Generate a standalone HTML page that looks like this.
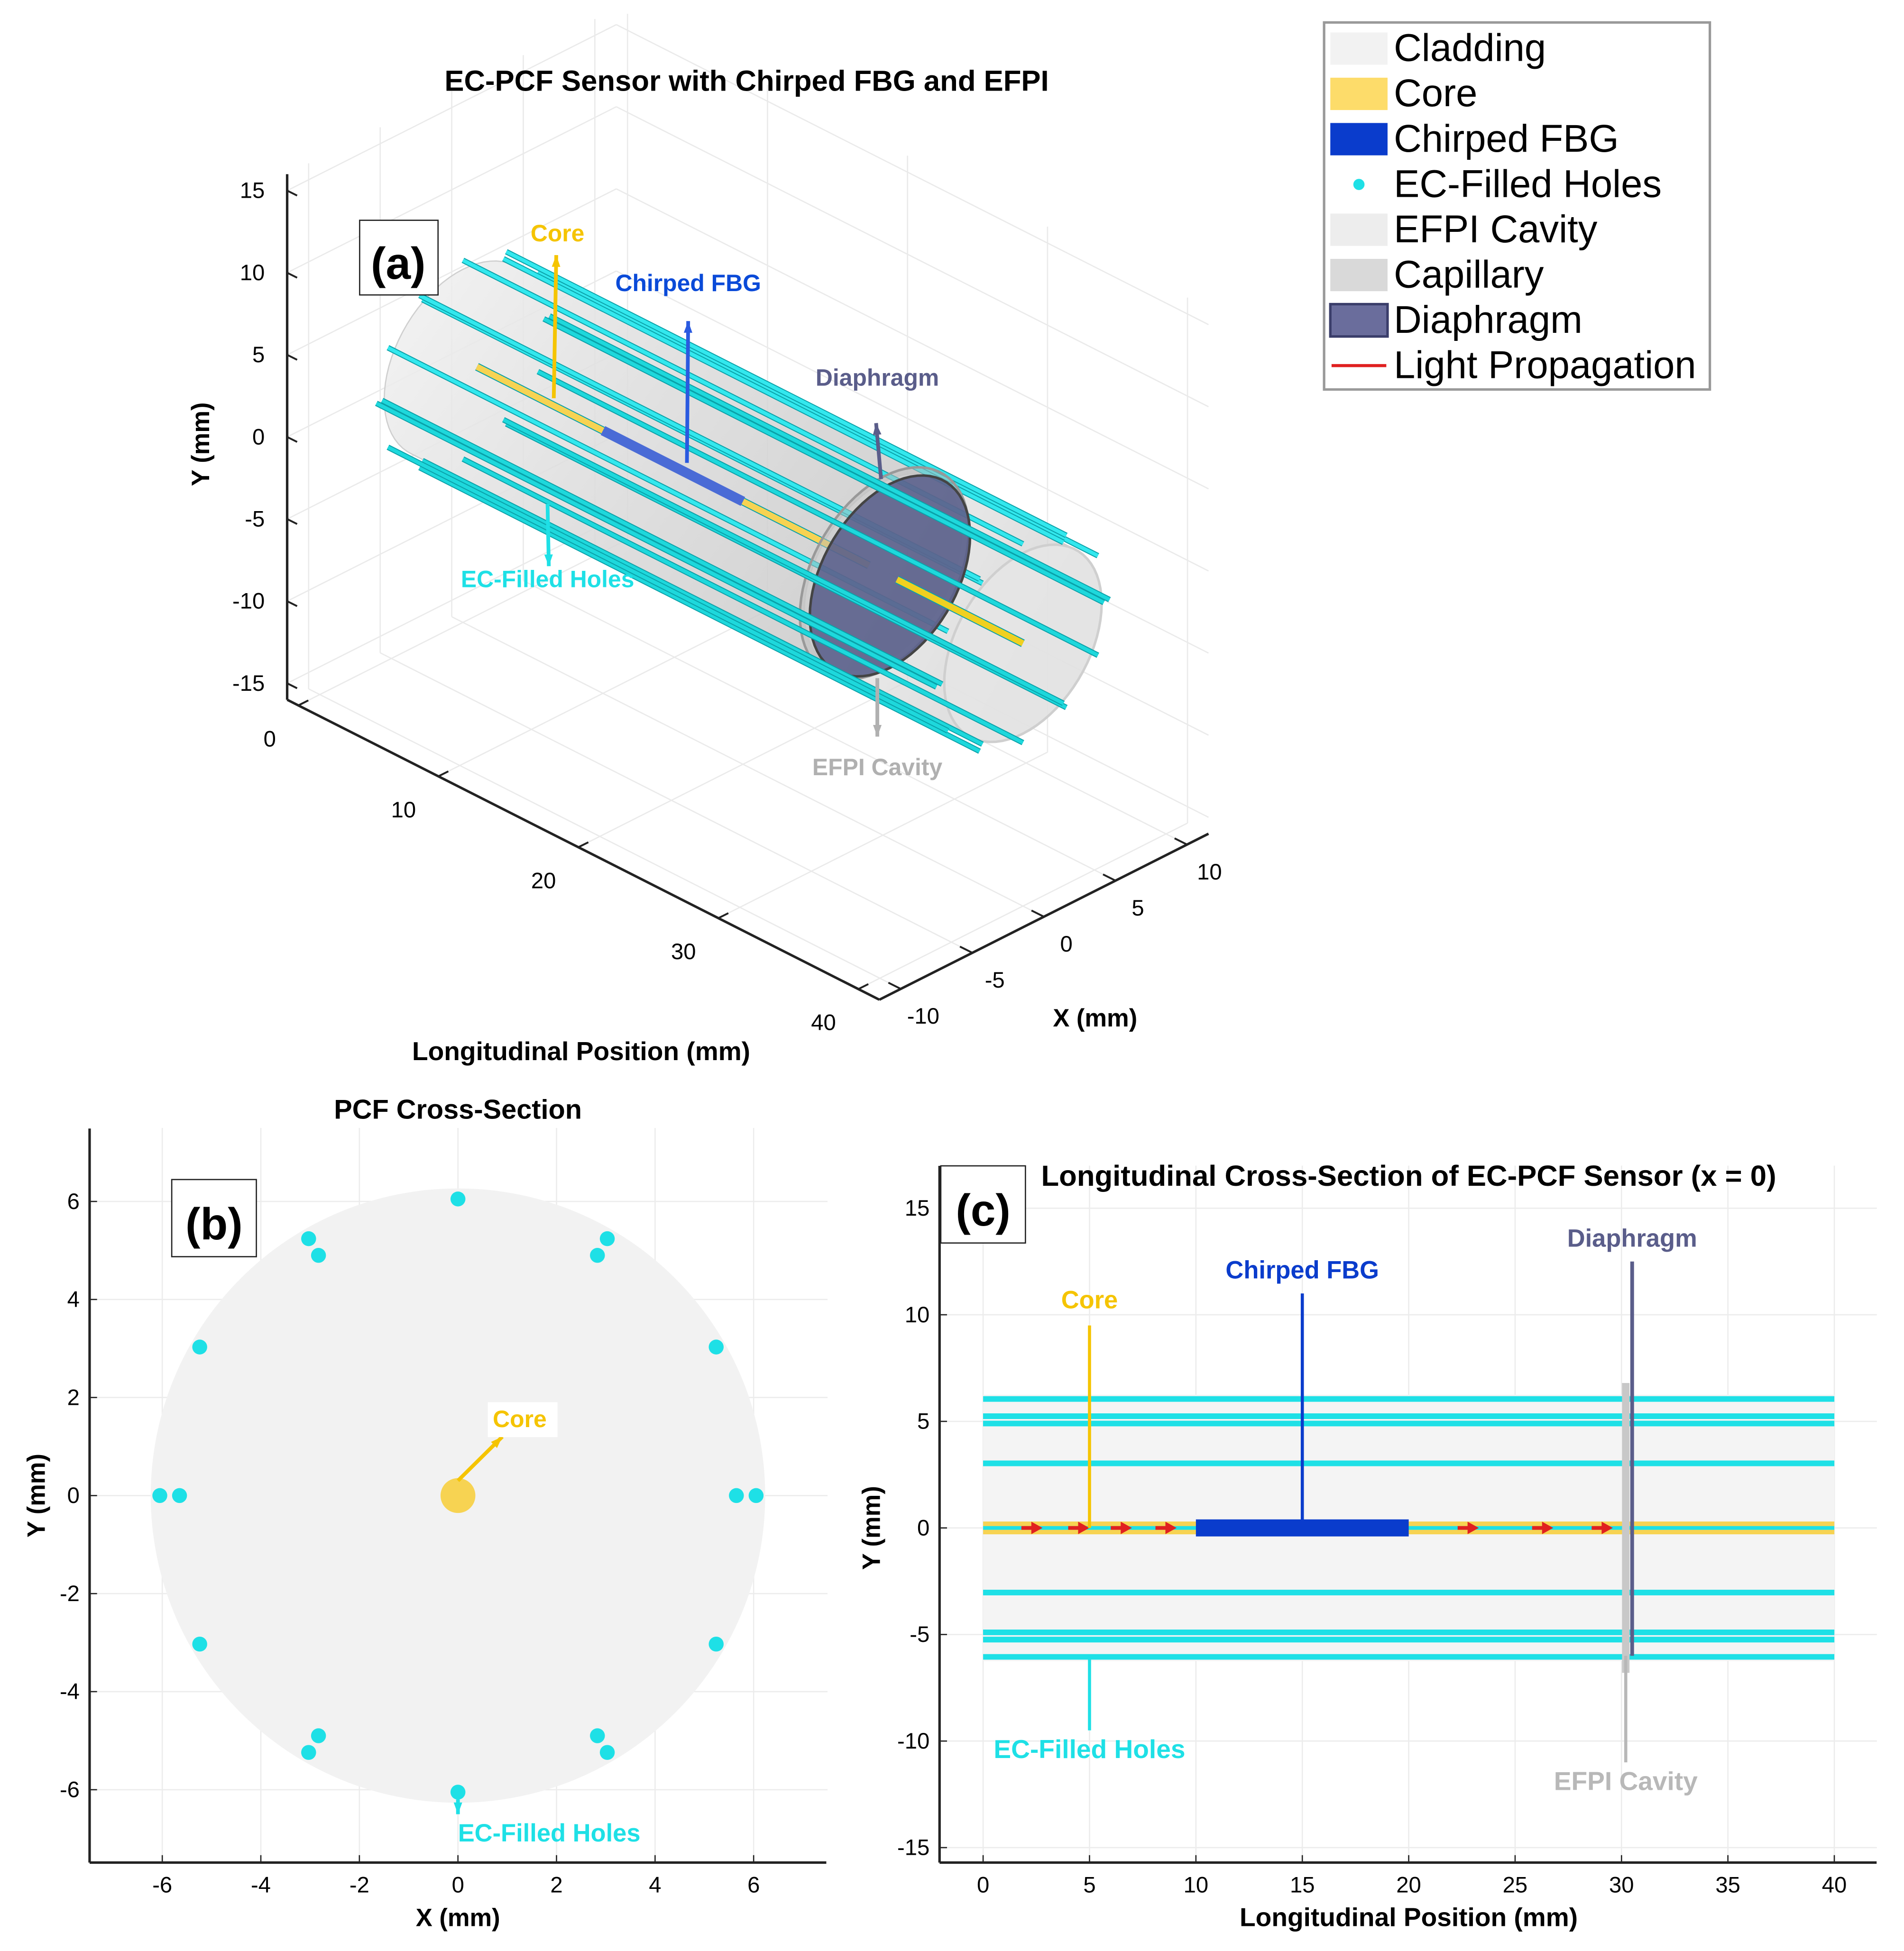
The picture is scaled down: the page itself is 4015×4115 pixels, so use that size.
<!DOCTYPE html>
<html><head><meta charset="utf-8"><style>html,body{margin:0;padding:0;background:#fff}svg{display:block}text{font-family:"Liberation Sans",sans-serif}</style></head>
<body>
<svg id="s" width="4015" height="4115" viewBox="0 0 1530 1568" xmlns="http://www.w3.org/2000/svg">
<rect width="1530" height="1568" fill="#fff"/>
<g id="pa"></g>
<g id="pb"></g>
<g id="pc"></g>
<g id="lg"></g>
</svg>
<script>
const holeX=[6.05,5.24,3.03,0,-3.03,-5.24,-6.05,-5.24,-3.03,0,3.03,5.24,5.65,2.83,-2.83,-5.65,-2.83,2.83];
const holeY=[0,3.03,5.24,6.05,5.24,3.03,0,-3.03,-5.24,-6.05,-5.24,-3.03,0,4.9,4.9,0,-4.9,-4.9];
const cladR=6.25, cladR3d=5.5, coreR=0.3, fbgStart=10, fbgEnd=20, fiberLen=40, capPos=30.2, diaPos=30.5;
const lightArrows=[2.5,4.7,6.7,8.8,23,26.5,29.3];
const ticksB=[-6,-4,-2,0,2,4,6];
const ticksCx=[0,5,10,15,20,25,30,35,40];
const ticksCy=[-15,-10,-5,0,5,10,15];
const ticksAz=[0,10,20,30,40];
const ticksAx=[-10,-5,0,5,10];
const ticksAy=[-15,-10,-5,0,5,10,15];
const NS="http://www.w3.org/2000/svg";
const TF=23.5, AF=21, NF=19, CF=20;
function el(p,t,a,txt){const e=document.createElementNS(NS,t);for(const k in a)e.setAttribute(k,a[k]);if(txt!==undefined)e.textContent=txt;p.appendChild(e);return e;}
const S=document.getElementById('s');
const A=document.getElementById('pa'),B=document.getElementById('pb'),C=document.getElementById('pc'),L=document.getElementById('lg');
function arrow(p,x1,y1,x2,y2,col,w){const l=el(p,'line',{x1,y1,x2,y2,stroke:col,'stroke-width':w||2.5});
 const a=Math.atan2(y2-y1,x2-x1),h=10;el(p,'polygon',{points:`${x2},${y2} ${x2-h*Math.cos(a-0.35)},${y2-h*Math.sin(a-0.35)} ${x2-h*Math.cos(a+0.35)},${y2-h*Math.sin(a+0.35)}`,fill:col});return l;}

// ===== Panel B =====
const bx=v=>368+v*39.6, by=v=>1202-v*39.4;
for(const t of ticksB){el(B,'line',{x1:bx(t),y1:by(7.5),x2:bx(t),y2:by(-7.5),stroke:'#ececec'});el(B,'line',{x1:bx(-7.5),y1:by(t),x2:bx(7.5),y2:by(t),stroke:'#ececec'});}
let c=el(B,'circle',{cx:bx(0),cy:by(0),r:cladR*39.5,fill:'#f2f2f2'});
for(let i=0;i<holeX.length;i++){const h=el(B,'circle',{cx:bx(holeX[i]),cy:by(holeY[i]),r:6,fill:'#1ee0e6'});}
c=el(B,'circle',{cx:bx(0),cy:by(0),r:14,fill:'#f7d352'});
arrow(B,bx(0),by(0)-12,bx(0.9),by(1.2),'#f5c400',3);
el(B,'rect',{x:392,y:1127,width:56,height:28,fill:'#fff'});
el(B,'text',{x:396,y:1147,'font-size':NF,'font-weight':'bold',fill:'#f5c400'},'Core');
arrow(B,bx(0),by(-6.2),bx(0),by(-6.5),'#1ee0e6',3);
el(B,'text',{x:368,y:1480,'font-size':NF+1,'font-weight':'bold',fill:'#1ee0e6'},'EC-Filled Holes');
el(B,'line',{x1:72,y1:907,x2:72,y2:1497,stroke:'#222','stroke-width':2});
el(B,'line',{x1:72,y1:1497,x2:664,y2:1497,stroke:'#222','stroke-width':2});
for(const t of ticksB){el(B,'line',{x1:bx(t),y1:1497,x2:bx(t),y2:1491,stroke:'#222'});el(B,'text',{x:bx(t),y:1521,'font-size':18,'text-anchor':'middle'},t);
 el(B,'line',{x1:72,y1:by(t),x2:78,y2:by(t),stroke:'#222'});el(B,'text',{x:64,y:by(t)+6,'font-size':18,'text-anchor':'end'},t);}
el(B,'text',{x:368,y:1548,'font-size':AF-1,'font-weight':'bold','text-anchor':'middle'},'X (mm)');
el(B,'text',{x:0,y:0,'font-size':AF-1,'font-weight':'bold','text-anchor':'middle',transform:'translate(36,1202) rotate(-90)'},'Y (mm)');
el(B,'text',{x:368,y:899,'font-size':22,'font-weight':'bold','text-anchor':'middle'},'PCF Cross-Section');
el(B,'rect',{x:138,y:948,width:68,height:62,fill:'#fff',stroke:'#222'});
el(B,'text',{x:172,y:996,'font-size':36,'font-weight':'bold','text-anchor':'middle'},'(b)');

// ===== Panel C =====
const cx=v=>790+v*17.1, cy=v=>1228-v*17.13;
for(const t of ticksCx)el(C,'line',{x1:cx(t),y1:cy(17),x2:cx(t),y2:cy(-15.7),stroke:'#ececec'});
for(const t of ticksCy)el(C,'line',{x1:cx(-2),y1:cy(t),x2:cx(42),y2:cy(t),stroke:'#ececec'});
el(C,'rect',{x:cx(0),y:cy(cladR),width:cx(fiberLen)-cx(0),height:cy(-cladR)-cy(cladR),fill:'#f4f4f4'});
for(let i=0;i<holeY.length;i++){if(Math.abs(holeY[i])<0.01)continue;
 const l=el(C,'line',{x1:cx(0),y1:cy(holeY[i]),x2:cx(fiberLen),y2:cy(holeY[i]),stroke:'#1ee0e6','stroke-width':4.5});}
el(C,'rect',{x:cx(0),y:cy(coreR),width:cx(fiberLen)-cx(0),height:cy(-coreR)-cy(coreR),fill:'#f7d352'});
el(C,'line',{x1:cx(0),y1:cy(0),x2:cx(fiberLen),y2:cy(0),stroke:'#1ee0e6','stroke-width':3});
const fb=el(C,'rect',{x:cx(fbgStart),y:cy(0.4),width:cx(fbgEnd)-cx(fbgStart),height:cy(-0.4)-cy(0.4),fill:'#0a3ccc'});
for(const a of lightArrows){const x=cx(a);el(C,'line',{x1:x-12,y1:cy(0),x2:x,y2:cy(0),stroke:'#e02020','stroke-width':3});el(C,'polygon',{points:`${x+5},${cy(0)} ${x-4},${cy(0)-5} ${x-4},${cy(0)+5}`,fill:'#e02020'});}
el(C,'rect',{x:cx(capPos)-3,y:cy(6.8),width:6,height:cy(-6.8)-cy(6.8),fill:'#c8c8c8'});
el(C,'line',{x1:cx(diaPos),y1:cy(-6),x2:cx(diaPos),y2:cy(12.5),stroke:'#5a5d8a','stroke-width':3});
el(C,'line',{x1:cx(5),y1:cy(0),x2:cx(5),y2:cy(9.5),stroke:'#f5c400','stroke-width':2.5});
el(C,'text',{x:cx(5),y:cy(10.3),'font-size':CF,'font-weight':'bold',fill:'#f5c400','text-anchor':'middle'},'Core');
el(C,'line',{x1:cx(15),y1:cy(0),x2:cx(15),y2:cy(11),stroke:'#0a3ccc','stroke-width':2.5});
el(C,'text',{x:cx(15),y:cy(11.7),'font-size':CF,'font-weight':'bold',fill:'#0a3ccc','text-anchor':'middle'},'Chirped FBG');
el(C,'text',{x:cx(30.5),y:cy(13.2),'font-size':CF,'font-weight':'bold',fill:'#5a5d8a','text-anchor':'middle'},'Diaphragm');
el(C,'line',{x1:cx(5),y1:cy(-6),x2:cx(5),y2:cy(-9.5),stroke:'#1ee0e6','stroke-width':2.5});
el(C,'text',{x:cx(5),y:cy(-10.8),'font-size':CF+1,'font-weight':'bold',fill:'#1ee0e6','text-anchor':'middle'},'EC-Filled Holes');
el(C,'line',{x1:cx(30.2),y1:cy(-6),x2:cx(30.2),y2:cy(-11),stroke:'#b8b8b8','stroke-width':2.5});
el(C,'text',{x:cx(30.2),y:cy(-12.3),'font-size':CF+1,'font-weight':'bold',fill:'#b8b8b8','text-anchor':'middle'},'EFPI Cavity');
el(C,'line',{x1:755,y1:937,x2:755,y2:1497,stroke:'#222','stroke-width':2});
el(C,'line',{x1:755,y1:1497,x2:1508,y2:1497,stroke:'#222','stroke-width':2});
for(const t of ticksCx){el(C,'line',{x1:cx(t),y1:1497,x2:cx(t),y2:1491,stroke:'#222'});el(C,'text',{x:cx(t),y:1521,'font-size':18,'text-anchor':'middle'},t);}
for(const t of ticksCy){el(C,'line',{x1:755,y1:cy(t),x2:761,y2:cy(t),stroke:'#222'});el(C,'text',{x:747,y:cy(t)+6,'font-size':18,'text-anchor':'end'},t);}
el(C,'text',{x:1132,y:1548,'font-size':AF,'font-weight':'bold','text-anchor':'middle'},'Longitudinal Position (mm)');
el(C,'text',{x:0,y:0,'font-size':AF-1,'font-weight':'bold','text-anchor':'middle',transform:'translate(707,1228) rotate(-90)'},'Y (mm)');
el(C,'text',{x:1132,y:953,'font-size':TF,'font-weight':'bold','text-anchor':'middle'},'Longitudinal Cross-Section of EC-PCF Sensor (x = 0)');
el(C,'rect',{x:756,y:937,width:68,height:62,fill:'#fff',stroke:'#222'});
el(C,'text',{x:790,y:985,'font-size':36,'font-weight':'bold','text-anchor':'middle'},'(c)');

// ===== Panel A =====
const P=(x,y,z)=>[597+11.25*(z-20)+11.5*x, 403+5.7*(z-20)-5.8*x-13.2*y];
const X0=-11.5,X1=11.5,Y0=-16,Y1=16,Z0=-0.8,Z1=41.5;
const ln=(a,b,st,w)=>el(A,'line',{x1:a[0],y1:a[1],x2:b[0],y2:b[1],stroke:st,'stroke-width':w||1});
for(const t of ticksAy){ln(P(X1,t,Z0),P(X1,t,Z1),'#eaeaea');ln(P(X0,t,Z0),P(X1,t,Z0),'#eaeaea');}
for(const t of ticksAz){ln(P(X1,Y0,t),P(X1,Y1,t),'#eaeaea');ln(P(X0,Y0,t),P(X1,Y0,t),'#eaeaea');}
for(const t of ticksAx){ln(P(t,Y0,Z0),P(t,Y1,Z0),'#eaeaea');ln(P(t,Y0,Z0),P(t,Y0,Z1),'#eaeaea');}
function hull(pts){pts.sort((a,b)=>a[0]-b[0]||a[1]-b[1]);const cr=(o,a,b)=>(a[0]-o[0])*(b[1]-o[1])-(a[1]-o[1])*(b[0]-o[0]);const lo=[],up=[];
 for(const p of pts){while(lo.length>=2&&cr(lo[lo.length-2],lo[lo.length-1],p)<=0)lo.pop();lo.push(p);}
 for(const p of pts.slice().reverse()){while(up.length>=2&&cr(up[up.length-2],up[up.length-1],p)<=0)up.pop();up.push(p);}
 return lo.slice(0,-1).concat(up.slice(0,-1));}
function cyl(r,za,zb,fill,stroke,op,name){const pts=[];for(let i=0;i<72;i++){const a=i*Math.PI/36;pts.push(P(r*Math.cos(a),r*Math.sin(a),za));pts.push(P(r*Math.cos(a),r*Math.sin(a),zb));}
 const h=hull(pts);const e=el(A,'polygon',{points:h.map(p=>p.join(',')).join(' '),fill,stroke:stroke||'none','fill-opacity':op||1});return e;}
function disk(r,z,fill,op,stroke){const pts=[];for(let i=0;i<72;i++){const a=i*Math.PI/36;pts.push(P(r*Math.cos(a),r*Math.sin(a),z));}
 return el(A,'polygon',{points:pts.map(p=>p.join(',')).join(' '),fill,'fill-opacity':op,stroke:stroke||'none','stroke-width':2});}
const defs=el(S,'defs',{});const g=el(defs,'linearGradient',{id:'cg',x1:0,y1:0,x2:1,y2:0.5});
el(g,'stop',{offset:'0','stop-color':'#f2f2f2'});el(g,'stop',{offset:'0.5','stop-color':'#dcdcdc'});el(g,'stop',{offset:'1','stop-color':'#c9c9c9'});
cyl(cladR3d,0,30,'url(#cg)','#cfcfcf',0.85,'cladding-cylinder');
cyl(cladR3d,30,40,'url(#cg)','#cfcfcf',0.7,'capillary-cylinder');
disk(cladR3d,40,'#e6e6e6',0.8,'#cfcfcf');
const order=holeX.map((v,i)=>i).sort((a,b)=>(holeX[b]-holeY[b])-(holeX[a]-holeY[a]));
function rod(x,y,za,zb,col,w,name){const a=P(x,y,za),b=P(x,y,zb);let e=ln(a,b,'#0aa0a8',w+1.5);e=ln(a,b,col,w);}
for(const i of order){if(holeY[i]>0)rod(holeX[i],holeY[i],0,40,'#33e8ee',3,'ec-hole-rod');}
rod(0,0,1,fbgStart,'#f7d352',5,'core-rod');
ln(P(0,0,fbgStart),P(0,0,fbgEnd),'#4a6bd6',8);
rod(0,0,fbgEnd,29,'#f7d352',5,'core-rod-2');
disk(5.9,diaPos-0.4,'#bbbbbb',0.5,'#999');
disk(5.6,diaPos,'#555a88',0.85,'#444');
rod(0,0,31,40,'#f0d020',5,'core-rod-3');
for(const i of order){if(holeY[i]<=0)rod(holeX[i],holeY[i],0,40,'#1ed8dc',3,'ec-hole-rod');}
ln(P(X0,Y0,Z0),P(X0,Y1,Z0),'#222',2);
ln(P(X0,Y0,Z0),P(X0,Y0,Z1),'#222',2);
ln(P(X0,Y0,Z1),P(X1,Y0,Z1),'#222',2);
for(const t of ticksAy){const p=P(X0,t,Z0);ln(p,[p[0]+8,p[1]+4],'#222',1.5);el(A,'text',{x:p[0]-18,y:p[1]+6,'font-size':18,'text-anchor':'end'},t);}
for(const t of ticksAz){const p=P(X0,Y0,t);ln(p,[p[0]+8,p[1]-4],'#222',1.5);el(A,'text',{x:p[0]-18,y:p[1]+33,'font-size':18,'text-anchor':'end'},t);}
for(const t of ticksAx){const p=P(t,Y0,Z1);ln(p,[p[0]-10,p[1]-5],'#222',1.5);el(A,'text',{x:p[0]+18,y:p[1]+28,'font-size':18,'text-anchor':'middle'},t);}
el(A,'text',{x:467,y:852,'font-size':AF,'font-weight':'bold','text-anchor':'middle'},'Longitudinal Position (mm)');
el(A,'text',{x:880,y:825,'font-size':AF-1,'font-weight':'bold','text-anchor':'middle'},'X (mm)');
el(A,'text',{x:0,y:0,'font-size':AF-1,'font-weight':'bold','text-anchor':'middle',transform:'translate(168,357) rotate(-90)'},'Y (mm)');
el(A,'text',{x:600,y:73,'font-size':TF,'font-weight':'bold','text-anchor':'middle'},'EC-PCF Sensor with Chirped FBG and EFPI');
el(A,'rect',{x:289,y:177,width:63,height:60,fill:'#fff',stroke:'#222'});
el(A,'text',{x:320,y:224,'font-size':36,'font-weight':'bold','text-anchor':'middle'},'(a)');
arrow(A,445,320,447,205,'#f5c400',3);el(A,'text',{x:448,y:194,'font-size':NF,'font-weight':'bold',fill:'#f5c400','text-anchor':'middle'},'Core');
arrow(A,552,372,553,258,'#2a5ae0',3);el(A,'text',{x:553,y:234,'font-size':NF,'font-weight':'bold',fill:'#0a4ad8','text-anchor':'middle'},'Chirped FBG');
arrow(A,708,385,704,340,'#5a5d8a',3);el(A,'text',{x:705,y:310,'font-size':NF,'font-weight':'bold',fill:'#5a5d8a','text-anchor':'middle'},'Diaphragm');
arrow(A,440,405,441,455,'#1ee0e6',3);el(A,'text',{x:440,y:472,'font-size':NF,'font-weight':'bold',fill:'#1ee0e6','text-anchor':'middle'},'EC-Filled Holes');
arrow(A,705,545,705,592,'#b0b0b0',3);el(A,'text',{x:705,y:623,'font-size':NF,'font-weight':'bold',fill:'#b0b0b0','text-anchor':'middle'},'EFPI Cavity');

// ===== Legend =====
el(L,'rect',{x:1064,y:18,width:310,height:295,fill:'#fff',stroke:'#999','stroke-width':2});
const legN=['Cladding','Core','Chirped FBG','EC-Filled Holes','EFPI Cavity','Capillary','Diaphragm','Light Propagation'];
const legC=['#f2f2f2','#fddc6a','#0a3ccc','dot','#ededed','#d9d9d9','#6a6d9c','line'];
for(let i=0;i<legN.length;i++){const yc=39+i*36.4;const gi=el(L,'g',{});
 if(legC[i]==='dot')el(gi,'circle',{cx:1092,cy:yc,r:4.5,fill:'#1ee0e6'});
 else if(legC[i]==='line')el(gi,'line',{x1:1070,y1:yc,x2:1114,y2:yc,stroke:'#e02020','stroke-width':2.5});
 else el(gi,'rect',{x:1069,y:yc-13,width:46,height:26,fill:legC[i],stroke:i===6?'#3a3d6a':'none','stroke-width':2});
 el(gi,'text',{x:1120,y:yc+10,'font-size':31},legN[i]);}
</script>
</body></html>
